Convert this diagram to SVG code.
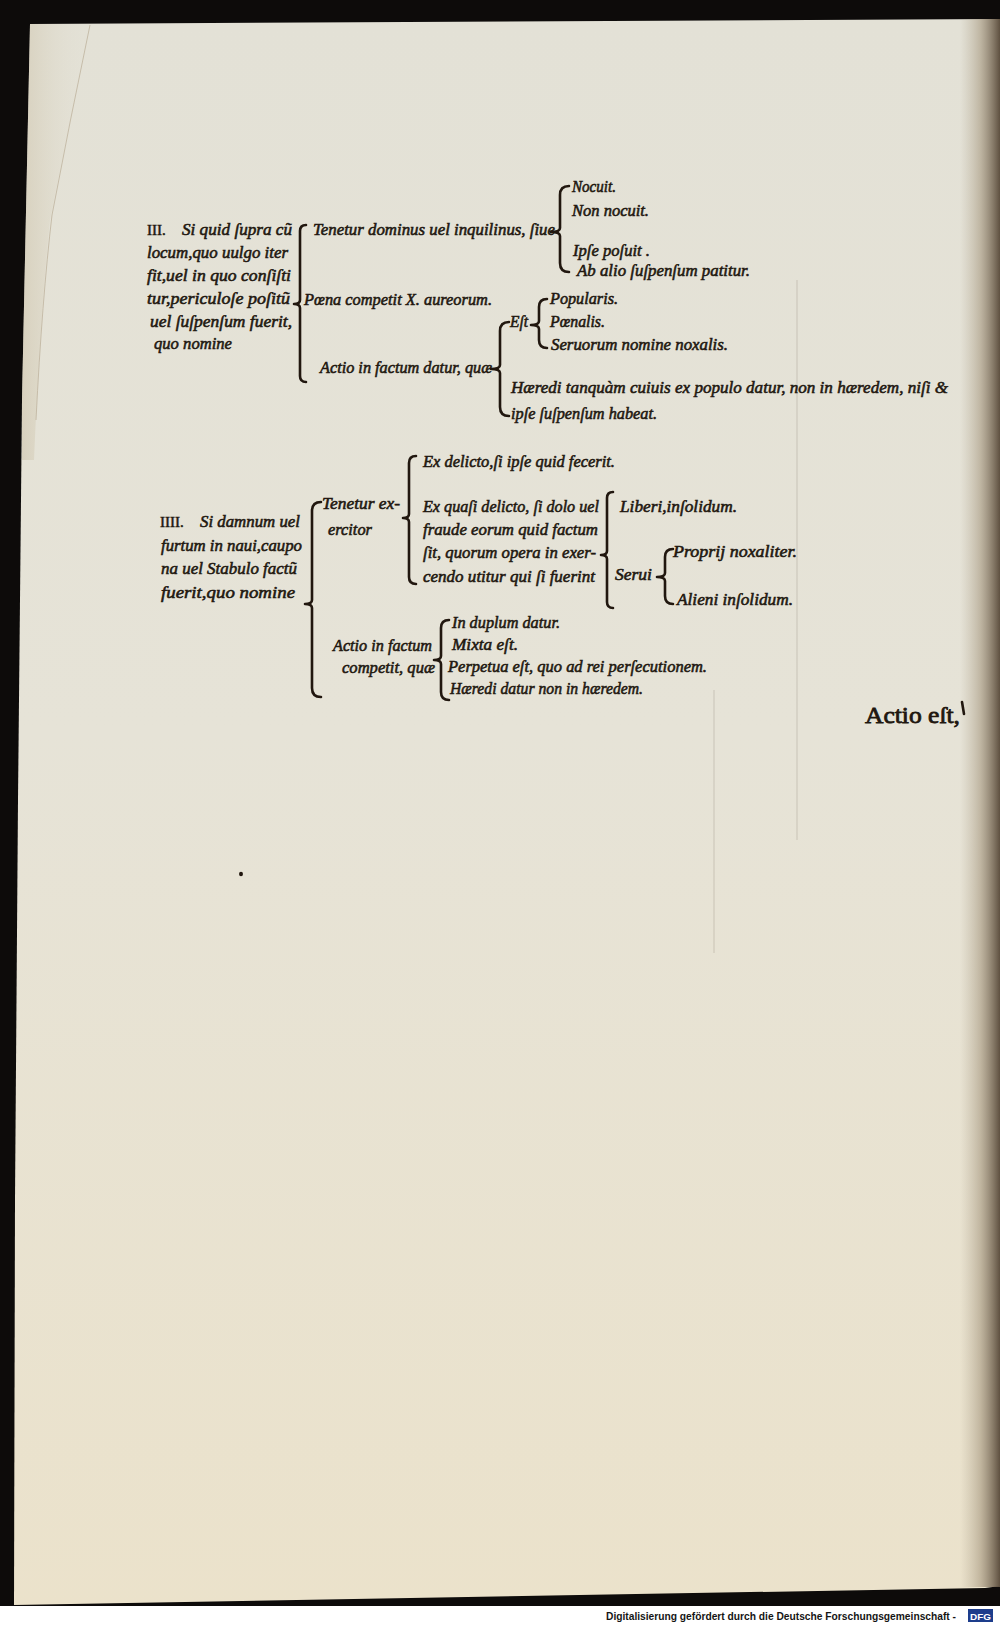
<svg xmlns="http://www.w3.org/2000/svg" width="1000" height="1626" viewBox="0 0 1000 1626">
<defs>
<linearGradient id="paper" x1="0" y1="0" x2="0" y2="1">
<stop offset="0" stop-color="#e3e1d6"/>
<stop offset="0.45" stop-color="#e6e3d7"/>
<stop offset="1" stop-color="#ebe2cb"/>
</linearGradient>
<linearGradient id="spine" x1="0" y1="0" x2="1" y2="0">
<stop offset="0" stop-color="#b8ad98" stop-opacity="0"/>
<stop offset="0.5" stop-color="#a89a82" stop-opacity="0.6"/>
<stop offset="1" stop-color="#5e5040"/>
</linearGradient>
<linearGradient id="leftedge" x1="0" y1="0" x2="1" y2="0">
<stop offset="0" stop-color="#cfc5ad"/>
<stop offset="1" stop-color="#e5e2d6" stop-opacity="0"/>
</linearGradient>
</defs>
<style>
.t{font-family:"Liberation Serif","DejaVu Serif",serif;font-style:italic;font-size:16.5px;fill:#21170f;stroke:#21170f;stroke-width:0.55px}
.r{font-family:"Liberation Serif","DejaVu Serif",serif;font-style:normal;font-size:15px;fill:#21170f;stroke:#21170f;stroke-width:0.5px}
.big{font-family:"Liberation Serif","DejaVu Serif",serif;font-size:24px;fill:#21170f;stroke:#21170f;stroke-width:0.8px}
.br{fill:none;stroke:#21170f;stroke-width:2.6;stroke-linecap:round;stroke-linejoin:round}
.ghost{fill:none;stroke:#6a5a48;stroke-width:1.4;opacity:0.16}
.foot{font-family:"Liberation Sans","DejaVu Sans",sans-serif;font-weight:bold;font-size:10.2px;fill:#151515}
</style>

<!-- background / page -->
<rect x="0" y="0" width="1000" height="1626" fill="#0d0b0a"/>
<path d="M30 24 L1000 19 L1000 1586 L985 1588 L14 1605 L15 1200 L18 800 L22 400 Z" fill="url(#paper)"/>
<path d="M30 24 L90 24 Q70 120 50 220 Q40 320 34 460 L22 460 L22 400 Z" fill="url(#leftedge)" opacity="0.6"/>
<path d="M90 25 Q70 120 52 215 Q42 300 36 420" fill="none" stroke="#b9ad95" stroke-width="1" opacity="0.7"/>
<rect x="960" y="19" width="40" height="1568" fill="url(#spine)"/>
<ellipse cx="241" cy="874" rx="2" ry="2.2" fill="#21170f"/>
<rect x="0" y="1606" width="1000" height="20" fill="#ffffff"/>

<!-- faint show-through marks -->
<g id="ghost">
<path class="ghost" d="M797 280 L797 840"/>
<path class="ghost" d="M714 690 L714 953"/>
</g>

<!-- connectors (braces) -->
<g id="connectors">
<path class="br" d="M306 225 Q300 225 300 231 L300 300 Q300 304 294 304 Q300 304 300 308 L300 376 Q300 382 306 382"/>
<path class="br" d="M569 186 Q560 186 560 195 L560 228 Q560 232 551 232 Q560 232 560 236 L560 263 Q560 272 569 272"/>
<path class="br" d="M509 322 Q500 322 500 331 L500 365 Q500 369 491 369 Q500 369 500 373 L500 407 Q500 416 509 416"/>
<path class="br" d="M547 299 Q539 299 539 307 L539 321 Q539 325 531 325 Q539 325 539 329 L539 340 Q539 348 547 348"/>
<path class="br" d="M321 502 Q312 502 312 511 L312 600 Q312 604 305 604 Q312 604 312 608 L312 688 Q312 697 321 697"/>
<path class="br" d="M416 456 Q409 456 409 463 L409 514 Q409 518 403 518 Q409 518 409 522 L409 577 Q409 584 416 584"/>
<path class="br" d="M613 492 Q607 492 607 498 L607 551 Q607 555 601 555 Q607 555 607 559 L607 602 Q607 608 613 608"/>
<path class="br" d="M673 549 Q665 549 665 557 L665 573 Q665 577 657 577 Q665 577 665 581 L665 596 Q665 604 673 604"/>
<path class="br" d="M449 620 Q441 620 441 628 L441 656 Q441 660 434 660 Q441 660 441 664 L441 692 Q441 700 449 700"/>
<path class="br" d="M962 702 L964 714"/>
</g>

<!-- Section III -->
<g id="node-III">
<text class="r" x="147" y="235">III.</text>
<text class="t" x="182" y="235" textLength="110" lengthAdjust="spacingAndGlyphs">Si quid ſupra cũ</text>
<text class="t" x="147" y="258" textLength="141" lengthAdjust="spacingAndGlyphs">locum,quo uulgo iter</text>
<text class="t" x="147" y="281" textLength="144" lengthAdjust="spacingAndGlyphs">fit,uel in quo conſiſti</text>
<text class="t" x="147" y="304" textLength="143" lengthAdjust="spacingAndGlyphs">tur,periculoſe poſitũ</text>
<text class="t" x="150" y="327" textLength="142" lengthAdjust="spacingAndGlyphs">uel ſuſpenſum fuerit,</text>
<text class="t" x="154" y="349" textLength="78" lengthAdjust="spacingAndGlyphs">quo nomine</text>
</g>
<g id="node-tenetur-dominus">
<text class="t" x="313" y="235" textLength="242" lengthAdjust="spacingAndGlyphs">Tenetur dominus uel inquilinus, ſiue</text>
</g>
<g id="node-nocuit">
<text class="t" x="572" y="192" textLength="44" lengthAdjust="spacingAndGlyphs">Nocuit.</text>
<text class="t" x="572" y="216" textLength="77" lengthAdjust="spacingAndGlyphs">Non nocuit.</text>
</g>
<g id="node-ipse">
<text class="t" x="573" y="256" textLength="77" lengthAdjust="spacingAndGlyphs">Ipſe poſuit .</text>
<text class="t" x="577" y="276" textLength="173" lengthAdjust="spacingAndGlyphs">Ab alio ſuſpenſum patitur.</text>
</g>
<g id="node-poena">
<text class="t" x="304" y="305" textLength="188" lengthAdjust="spacingAndGlyphs">Pœna competit X. aureorum.</text>
</g>
<g id="node-actio-datur">
<text class="t" x="320" y="373" textLength="172" lengthAdjust="spacingAndGlyphs">Actio in factum datur, quæ</text>
</g>
<g id="node-est">
<text class="t" x="510" y="327" textLength="18" lengthAdjust="spacingAndGlyphs">Eſt</text>
</g>
<g id="node-est-kinds">
<text class="t" x="550" y="304" textLength="68" lengthAdjust="spacingAndGlyphs">Popularis.</text>
<text class="t" x="550" y="327" textLength="55" lengthAdjust="spacingAndGlyphs">Pœnalis.</text>
<text class="t" x="551" y="350" textLength="177" lengthAdjust="spacingAndGlyphs">Seruorum nomine noxalis.</text>
</g>
<g id="node-haeredi">
<text class="t" x="511" y="393" textLength="437" lengthAdjust="spacingAndGlyphs">Hæredi tanquàm  cuiuis ex populo datur, non in  hæredem, niſi &amp;</text>
<text class="t" x="511" y="419" textLength="146" lengthAdjust="spacingAndGlyphs">ipſe ſuſpenſum habeat.</text>
</g>

<!-- Section IIII -->
<g id="node-IIII">
<text class="r" x="160" y="527">IIII.</text>
<text class="t" x="200" y="527" textLength="100" lengthAdjust="spacingAndGlyphs">Si damnum uel</text>
<text class="t" x="161" y="551" textLength="141" lengthAdjust="spacingAndGlyphs">furtum in naui,caupo</text>
<text class="t" x="161" y="574" textLength="136" lengthAdjust="spacingAndGlyphs">na uel  Stabulo factũ</text>
<text class="t" x="161" y="598" textLength="134" lengthAdjust="spacingAndGlyphs">fuerit,quo nomine</text>
</g>
<g id="node-tenetur-exercitor">
<text class="t" x="322" y="509" textLength="78" lengthAdjust="spacingAndGlyphs">Tenetur ex-</text>
<text class="t" x="328" y="535" textLength="44" lengthAdjust="spacingAndGlyphs">ercitor</text>
</g>
<g id="node-ex-delicto">
<text class="t" x="423" y="467" textLength="192" lengthAdjust="spacingAndGlyphs">Ex delicto,ſi ipſe quid fecerit.</text>
</g>
<g id="node-ex-quasi">
<text class="t" x="423" y="512" textLength="176" lengthAdjust="spacingAndGlyphs">Ex quaſi delicto, ſi dolo uel</text>
<text class="t" x="423" y="535" textLength="175" lengthAdjust="spacingAndGlyphs">fraude  eorum quid factum</text>
<text class="t" x="423" y="558" textLength="173" lengthAdjust="spacingAndGlyphs">ſit, quorum opera in exer-</text>
<text class="t" x="423" y="582" textLength="172" lengthAdjust="spacingAndGlyphs">cendo utitur qui ſi fuerint</text>
</g>
<g id="node-liberi">
<text class="t" x="620" y="512" textLength="117" lengthAdjust="spacingAndGlyphs">Liberi,inſolidum.</text>
</g>
<g id="node-serui">
<text class="t" x="615" y="580" textLength="37" lengthAdjust="spacingAndGlyphs">Serui</text>
</g>
<g id="node-serui-kinds">
<text class="t" x="673" y="557" textLength="124" lengthAdjust="spacingAndGlyphs">Proprij noxaliter.</text>
<text class="t" x="677" y="605" textLength="116" lengthAdjust="spacingAndGlyphs">Alieni inſolidum.</text>
</g>
<g id="node-actio-competit">
<text class="t" x="333" y="651" textLength="99" lengthAdjust="spacingAndGlyphs">Actio in factum</text>
<text class="t" x="342" y="673" textLength="93" lengthAdjust="spacingAndGlyphs">competit, quæ</text>
</g>
<g id="node-actio-kinds">
<text class="t" x="452" y="628" textLength="108" lengthAdjust="spacingAndGlyphs">In duplum datur.</text>
<text class="t" x="452" y="650" textLength="66" lengthAdjust="spacingAndGlyphs">Mixta eſt.</text>
<text class="t" x="448" y="672" textLength="259" lengthAdjust="spacingAndGlyphs">Perpetua eſt, quo ad rei perſecutionem.</text>
<text class="t" x="450" y="694" textLength="193" lengthAdjust="spacingAndGlyphs">Hæredi datur non in hæredem.</text>
</g>
<g id="node-actio-est">
<text class="big" x="865" y="723" textLength="95" lengthAdjust="spacingAndGlyphs">Actio eſt,</text>
</g>

<!-- footer -->
<g id="footer">
<text class="foot" x="606" y="1620" textLength="350" lengthAdjust="spacingAndGlyphs">Digitalisierung gefördert durch die Deutsche Forschungsgemeinschaft -</text>
<rect x="968" y="1609" width="25" height="13" fill="#1d3d8c"/>
<text x="970" y="1620" font-family="Liberation Sans, DejaVu Sans, sans-serif" font-weight="bold" font-size="9.5" fill="#ffffff" textLength="21" lengthAdjust="spacingAndGlyphs">DFG</text>
</g>
</svg>
